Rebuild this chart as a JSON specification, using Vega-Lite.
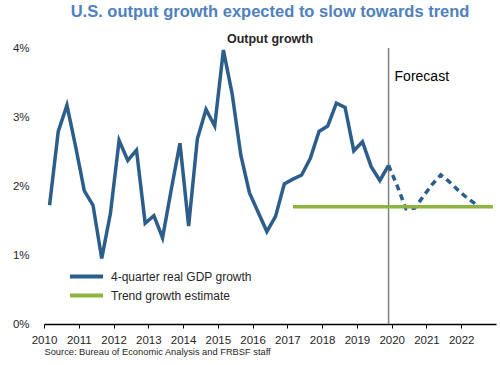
{
  "$schema": "https://vega.github.io/schema/vega-lite/v6.json",
  "width": 452,
  "height": 276,
  "autosize": "none",
  "padding": {"left": 44, "top": 48, "right": 4, "bottom": 41},
  "background": "white",
  "config": {
    "font": "Liberation Sans",
    "view": {"stroke": null},
    "axisX": {"grid": false, "domainColor": "#000000", "domainWidth": 1.5, "tickColor": "#000000", "tickSize": 4, "tickWidth": 1, "labelFontSize": 11.5, "labelColor": "#262626", "labelPadding": 6, "labelFlush": false, "labelOverlap": false, "titleFontSize": 9.3, "titleFontWeight": "normal", "titleColor": "#262626", "titleAnchor": "start", "titleAlign": "left", "titlePadding": 2, "labelFont": "Liberation Sans", "titleFont": "Liberation Sans"},
    "axisY": {"domain": false, "ticks": false, "gridColor": "#e6e6e6", "gridWidth": 1, "labelPadding": 15, "labelFontSize": 11.5, "labelColor": "#262626", "labelFont": "Liberation Sans"}
  },
  "title": {
    "text": "U.S. output growth expected to slow towards trend",
    "subtitle": "Output growth",
    "font": "Liberation Sans",
    "subtitleFont": "Liberation Sans",
    "fontSize": 16.5,
    "fontWeight": "bold",
    "color": "#4f81bd",
    "subtitleFontSize": 12.5,
    "subtitleFontWeight": "bold",
    "subtitleColor": "#262626",
    "anchor": "middle",
    "offset": -3,
    "subtitlePadding": 12
  },
  "datasets": {
    "gdp": [
      {"q": 2010.16, "v": 1.72, "part": "actual", "series": "4-quarter real GDP growth"},
      {"q": 2010.41, "v": 2.79, "part": "actual", "series": "4-quarter real GDP growth"},
      {"q": 2010.66, "v": 3.17, "part": "actual", "series": "4-quarter real GDP growth"},
      {"q": 2010.91, "v": 2.57, "part": "actual", "series": "4-quarter real GDP growth"},
      {"q": 2011.16, "v": 1.93, "part": "actual", "series": "4-quarter real GDP growth"},
      {"q": 2011.41, "v": 1.72, "part": "actual", "series": "4-quarter real GDP growth"},
      {"q": 2011.66, "v": 0.95, "part": "actual", "series": "4-quarter real GDP growth"},
      {"q": 2011.91, "v": 1.60, "part": "actual", "series": "4-quarter real GDP growth"},
      {"q": 2012.16, "v": 2.66, "part": "actual", "series": "4-quarter real GDP growth"},
      {"q": 2012.41, "v": 2.37, "part": "actual", "series": "4-quarter real GDP growth"},
      {"q": 2012.66, "v": 2.52, "part": "actual", "series": "4-quarter real GDP growth"},
      {"q": 2012.91, "v": 1.46, "part": "actual", "series": "4-quarter real GDP growth"},
      {"q": 2013.16, "v": 1.57, "part": "actual", "series": "4-quarter real GDP growth"},
      {"q": 2013.41, "v": 1.25, "part": "actual", "series": "4-quarter real GDP growth"},
      {"q": 2013.66, "v": 1.95, "part": "actual", "series": "4-quarter real GDP growth"},
      {"q": 2013.91, "v": 2.62, "part": "actual", "series": "4-quarter real GDP growth"},
      {"q": 2014.16, "v": 1.42, "part": "actual", "series": "4-quarter real GDP growth"},
      {"q": 2014.41, "v": 2.68, "part": "actual", "series": "4-quarter real GDP growth"},
      {"q": 2014.66, "v": 3.11, "part": "actual", "series": "4-quarter real GDP growth"},
      {"q": 2014.91, "v": 2.87, "part": "actual", "series": "4-quarter real GDP growth"},
      {"q": 2015.16, "v": 3.97, "part": "actual", "series": "4-quarter real GDP growth"},
      {"q": 2015.41, "v": 3.34, "part": "actual", "series": "4-quarter real GDP growth"},
      {"q": 2015.66, "v": 2.45, "part": "actual", "series": "4-quarter real GDP growth"},
      {"q": 2015.91, "v": 1.90, "part": "actual", "series": "4-quarter real GDP growth"},
      {"q": 2016.16, "v": 1.62, "part": "actual", "series": "4-quarter real GDP growth"},
      {"q": 2016.41, "v": 1.34, "part": "actual", "series": "4-quarter real GDP growth"},
      {"q": 2016.66, "v": 1.56, "part": "actual", "series": "4-quarter real GDP growth"},
      {"q": 2016.91, "v": 2.03, "part": "actual", "series": "4-quarter real GDP growth"},
      {"q": 2017.16, "v": 2.10, "part": "actual", "series": "4-quarter real GDP growth"},
      {"q": 2017.41, "v": 2.16, "part": "actual", "series": "4-quarter real GDP growth"},
      {"q": 2017.66, "v": 2.40, "part": "actual", "series": "4-quarter real GDP growth"},
      {"q": 2017.91, "v": 2.79, "part": "actual", "series": "4-quarter real GDP growth"},
      {"q": 2018.16, "v": 2.87, "part": "actual", "series": "4-quarter real GDP growth"},
      {"q": 2018.41, "v": 3.20, "part": "actual", "series": "4-quarter real GDP growth"},
      {"q": 2018.66, "v": 3.14, "part": "actual", "series": "4-quarter real GDP growth"},
      {"q": 2018.91, "v": 2.51, "part": "actual", "series": "4-quarter real GDP growth"},
      {"q": 2019.16, "v": 2.64, "part": "actual", "series": "4-quarter real GDP growth"},
      {"q": 2019.41, "v": 2.28, "part": "actual", "series": "4-quarter real GDP growth"},
      {"q": 2019.66, "v": 2.08, "part": "actual", "series": "4-quarter real GDP growth"},
      {"q": 2019.91, "v": 2.30, "part": "actual", "series": "4-quarter real GDP growth"},
      {"q": 2019.91, "v": 2.30, "part": "forecast", "series": "4-quarter real GDP growth"},
      {"q": 2020.16, "v": 2.00, "part": "forecast", "series": "4-quarter real GDP growth"},
      {"q": 2020.41, "v": 1.67, "part": "forecast", "series": "4-quarter real GDP growth"},
      {"q": 2020.66, "v": 1.68, "part": "forecast", "series": "4-quarter real GDP growth"},
      {"q": 2020.91, "v": 1.85, "part": "forecast", "series": "4-quarter real GDP growth"},
      {"q": 2021.16, "v": 2.02, "part": "forecast", "series": "4-quarter real GDP growth"},
      {"q": 2021.41, "v": 2.16, "part": "forecast", "series": "4-quarter real GDP growth"},
      {"q": 2021.66, "v": 2.06, "part": "forecast", "series": "4-quarter real GDP growth"},
      {"q": 2021.91, "v": 1.94, "part": "forecast", "series": "4-quarter real GDP growth"},
      {"q": 2022.16, "v": 1.83, "part": "forecast", "series": "4-quarter real GDP growth"},
      {"q": 2022.41, "v": 1.74, "part": "forecast", "series": "4-quarter real GDP growth"}
    ],
    "trend": [
      {"q": 2017.16, "v": 1.7, "series": "Trend growth estimate"},
      {"q": 2022.91, "v": 1.7, "series": "Trend growth estimate"}
    ],
    "marker": [
      {"q": 2019.91, "v": 3.58, "label": "Forecast"}
    ]
  },
  "layer": [
    {
      "data": {"name": "marker"},
      "mark": {"type": "rule", "color": "#808080", "strokeWidth": 1.5},
      "encoding": {
        "x": {"field": "q", "type": "quantitative", "scale": {"domain": [2010, 2023], "nice": false, "zero": false},
              "axis": {"values": [2010, 2011, 2012, 2013, 2014, 2015, 2016, 2017, 2018, 2019, 2020, 2021, 2022], "tickCount": 20, "format": "d", "labelOverlap": false, "labelFlush": false, "title": "Source: Bureau of Economic Analysis and FRBSF staff"}},
        "y": {"datum": 0, "type": "quantitative", "scale": {"domain": [0, 4], "nice": false},
              "axis": {"values": [0, 1, 2, 3, 4], "tickCount": 10, "labelExpr": "datum.value + '%'", "title": null}},
        "y2": {"datum": 4}
      }
    },
    {
      "data": {"name": "gdp"},
      "transform": [{"filter": "datum.part == 'actual'"}],
      "mark": {"type": "line", "strokeWidth": 3.5, "strokeJoin": "miter", "strokeCap": "butt"},
      "encoding": {
        "x": {"field": "q", "type": "quantitative",
              "axis": {"values": [2010, 2011, 2012, 2013, 2014, 2015, 2016, 2017, 2018, 2019, 2020, 2021, 2022], "tickCount": 20, "format": "d", "labelOverlap": false, "labelFlush": false, "title": "Source: Bureau of Economic Analysis and FRBSF staff"}},
        "y": {"field": "v", "type": "quantitative",
              "axis": {"values": [0, 1, 2, 3, 4], "tickCount": 10, "labelExpr": "datum.value + '%'", "title": null}},
        "color": {"field": "series", "type": "nominal",
                  "scale": {"domain": ["4-quarter real GDP growth", "Trend growth estimate"], "range": ["#2c5e8c", "#8db43c"]},
                  "legend": {"orient": "none", "legendX": 36, "legendY": 222, "title": null, "symbolType": "M-4,0H4", "symbolSize": 68, "symbolStrokeWidth": 4, "labelFontSize": 12, "labelOffset": 18, "rowPadding": 2, "labelColor": "#262626", "labelFont": "Liberation Sans", "padding": 0}}
      }
    },
    {
      "data": {"name": "gdp"},
      "transform": [{"filter": "datum.part == 'forecast'"}],
      "mark": {"type": "line", "strokeWidth": 3.5, "strokeDash": [6, 4.5], "strokeCap": "butt"},
      "encoding": {
        "x": {"field": "q", "type": "quantitative"},
        "y": {"field": "v", "type": "quantitative"},
        "color": {"field": "series", "type": "nominal"}
      }
    },
    {
      "data": {"name": "trend"},
      "mark": {"type": "line", "strokeWidth": 3.5},
      "encoding": {
        "x": {"field": "q", "type": "quantitative"},
        "y": {"field": "v", "type": "quantitative"},
        "color": {"field": "series", "type": "nominal"}
      }
    },
    {
      "data": {"name": "marker"},
      "mark": {"type": "text", "align": "left", "baseline": "middle", "dx": 6, "fontSize": 14, "fill": "#000000", "font": "Liberation Sans"},
      "encoding": {
        "x": {"field": "q", "type": "quantitative"},
        "y": {"field": "v", "type": "quantitative"},
        "text": {"field": "label", "type": "nominal"}
      }
    }
  ]
}
